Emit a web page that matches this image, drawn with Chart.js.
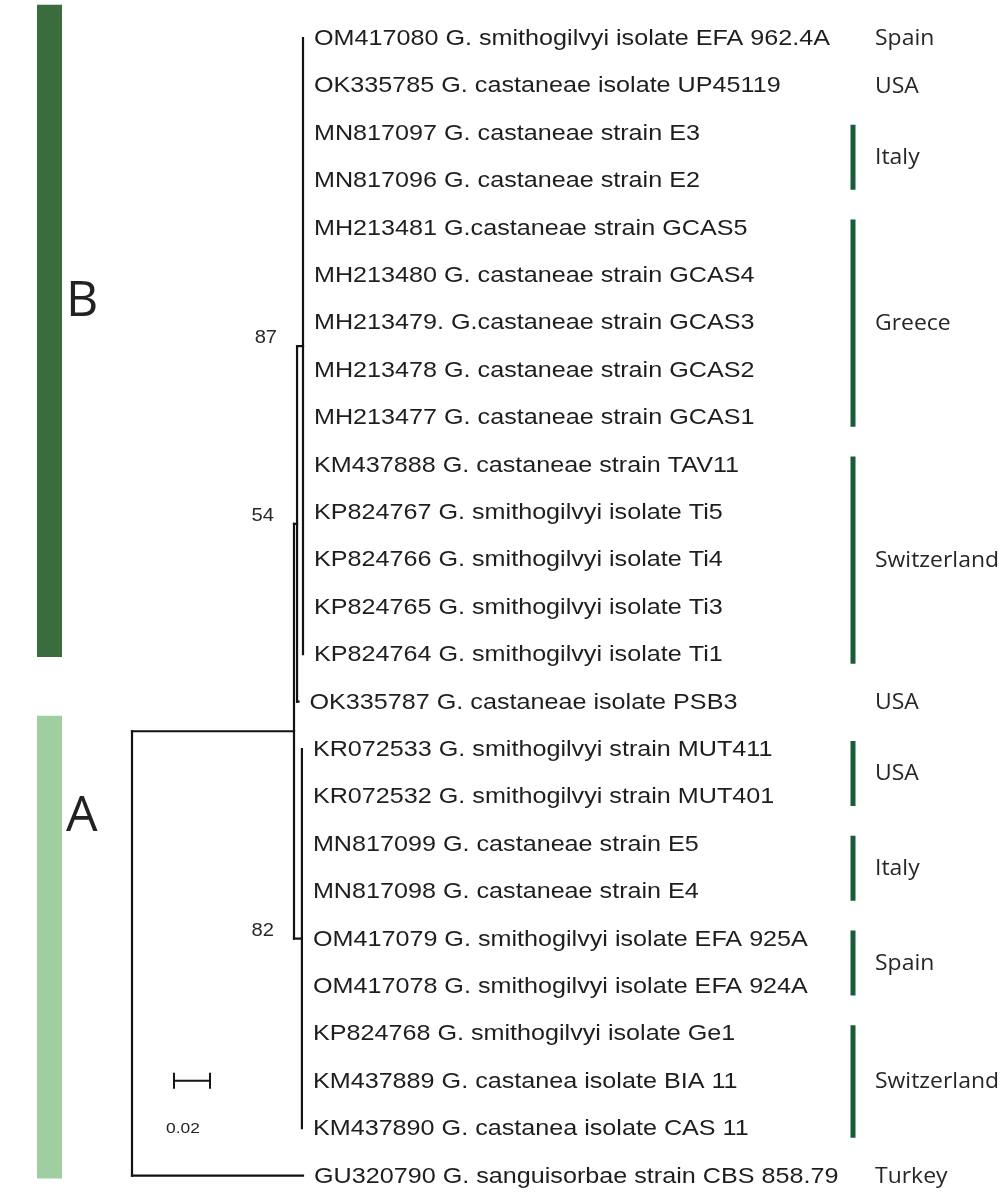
<!DOCTYPE html>
<html>
<head>
<meta charset="utf-8">
<title>Phylogenetic tree – Gnomoniopsis ITS</title>
<script src="https://cdn.jsdelivr.net/npm/chart.js@4.4.1/dist/chart.umd.min.js"></script>
<style>
  html, body { margin: 0; padding: 0; background: #ffffff; }
  #wrap { position: relative; width: 1000px; height: 1192px; }
</style>
</head>
<body>
<div id="wrap"><canvas id="tree"></canvas></div>
<script>
// ---- Taxa, in tree order (top to bottom) ----
const taxa = [
  'OM417080 G. smithogilvyi isolate EFA 962.4A',
  'OK335785 G. castaneae isolate UP45119',
  'MN817097 G. castaneae strain E3',
  'MN817096 G. castaneae strain E2',
  'MH213481 G.castaneae strain GCAS5',
  'MH213480 G. castaneae strain GCAS4',
  'MH213479. G.castaneae strain GCAS3',
  'MH213478 G. castaneae strain GCAS2',
  'MH213477 G. castaneae strain GCAS1',
  'KM437888 G. castaneae strain TAV11',
  'KP824767 G. smithogilvyi isolate Ti5',
  'KP824766 G. smithogilvyi isolate Ti4',
  'KP824765 G. smithogilvyi isolate Ti3',
  'KP824764 G. smithogilvyi isolate Ti1',
  'OK335787 G. castaneae isolate PSB3',
  'KR072533 G. smithogilvyi strain MUT411',
  'KR072532 G. smithogilvyi strain MUT401',
  'MN817099 G. castaneae strain E5',
  'MN817098 G. castaneae strain E4',
  'OM417079 G. smithogilvyi isolate EFA 925A',
  'OM417078 G. smithogilvyi isolate EFA 924A',
  'KP824768 G. smithogilvyi isolate Ge1',
  'KM437889 G. castanea isolate BIA 11',
  'KM437890 G. castanea isolate CAS 11',
  'GU320790 G. sanguisorbae strain CBS 858.79'
];
// parent node of each taxon and the length of its branch (substitutions/site)
const tipParent = [
  'n87','n87','n87','n87','n87','n87','n87','n87','n87','n87','n87','n87','n87','n87',
  'n54',
  'n82','n82','n82','n82','n82','n82','n82','n82','n82',
  'root'
];
const tipBranch = [
  0,0,0,0,0,0,0,0,0,0,0,0,0,0,
  0.0008,
  0,0,0,0,0,0,0,0,0,
  0.0950
];

// ---- Internal nodes ----
const nodeIds     = ['root', 'ingroup', 'n54', 'n87', 'n82'];
const nodeParent  = [null,   'root',    'ingroup', 'n54', 'ingroup'];
const nodeBranch  = [0,      0.0900,    0.0017,    0.0033, 0.0044];
const nodeSupport = [null,   null,      54,        87,     82];

// ---- Country of origin, as runs of consecutive taxa (1-based rows) ----
const countryNames = ['Spain','USA','Italy','Greece','Switzerland','USA','USA','Italy','Spain','Switzerland','Turkey'];
const countryFirst = [1, 2, 3, 5, 10, 15, 16, 18, 20, 22, 25];
const countryLast  = [1, 2, 4, 9, 14, 15, 17, 19, 21, 24, 25];

// ---- Clades ----
const cladeNames = ['B', 'A'];
const cladeFirst = [1, 16];
const cladeLast  = [14, 25];

// ---- Scale bar ----
const scaleBarLength = 0.02;
const scaleBarText = '0.02';

// ================= layout / style =================
const PX_PER_UNIT = 1800;     // horizontal pixels per substitution unit
const ROOT_PX = 132;          // pixel column of the root
const ROW0_PX = 38;           // pixel row of the first taxon
const ROW_PX = 47.4;          // spacing between taxa
const W = 1000, H = 1192;

const xMin = -ROOT_PX / PX_PER_UNIT;
const xMax = xMin + W / PX_PER_UNIT;
const yMin = 1 - ROW0_PX / ROW_PX;
const yMax = yMin + H / ROW_PX;

// ---- build node coordinates from the topology ----
const nodes = {};
nodeIds.forEach((id, i) => {
  nodes[id] = { id, parent: nodeParent[i], branch: nodeBranch[i], support: nodeSupport[i], kids: [] };
});
const tips = taxa.map((name, i) => ({ name, row: i + 1, parent: tipParent[i], branch: tipBranch[i] }));
nodeIds.forEach(id => { const n = nodes[id]; if (n.parent) nodes[n.parent].kids.push(n); });
tips.forEach(t => nodes[t.parent].kids.push(t));

function setX(n, px) {
  n.x = px + (n.branch || 0);
  (n.kids || []).forEach(k => setX(k, n.x));
}
function setY(n) {
  if (!n.kids) { n.y = n.row; return n.y; }
  const ys = n.kids.map(setY);
  n.yTop = Math.min(...ys);
  n.yBot = Math.max(...ys);
  n.y = (n.yTop + n.yBot) / 2;
  return n.y;
}
setX(nodes.root, 0);
setY(nodes.root);

// ---- line segments of the tree ----
const segs = [];
function collect(n) {
  if (!n.kids) return;
  segs.push([{ x: n.x, y: n.yTop }, { x: n.x, y: n.yBot }]);
  n.kids.forEach(k => {
    if (k.x > n.x) segs.push([{ x: n.x, y: k.y }, { x: k.x, y: k.y }]);
    collect(k);
  });
}
collect(nodes.root);

const datasets = [];
// clade bars on the left edge
const cladeColors = ['#3a6c3d', '#9fcfa0'];
const cladeBarX = (49.5 - ROOT_PX) / PX_PER_UNIT;
cladeNames.forEach((c, i) => {
  datasets.push({
    data: [{ x: cladeBarX, y: cladeFirst[i] - 0.7 }, { x: cladeBarX, y: cladeLast[i] + 0.06 }],
    borderColor: cladeColors[i], borderWidth: 25, borderCapStyle: 'butt'
  });
});
// country brackets
const bracketX = (853 - ROOT_PX) / PX_PER_UNIT;
countryNames.forEach((c, i) => {
  if (countryLast[i] > countryFirst[i]) {
    datasets.push({
      data: [{ x: bracketX, y: countryFirst[i] - 0.17 }, { x: bracketX, y: countryLast[i] + 0.2 }],
      borderColor: '#195d38', borderWidth: 5, borderCapStyle: 'butt'
    });
  }
});
// branches
segs.forEach(s => datasets.push({ data: s, borderColor: '#131313', borderWidth: 2.2, borderCapStyle: 'square' }));
// scale bar with end ticks
const sbX0 = (174 - ROOT_PX) / PX_PER_UNIT;
const sbRow = 23;
const tick = 0.17;
datasets.push({ data: [{ x: sbX0, y: sbRow }, { x: sbX0 + scaleBarLength, y: sbRow }], borderColor: '#151515', borderWidth: 2 });
datasets.push({ data: [{ x: sbX0, y: sbRow - tick }, { x: sbX0, y: sbRow + tick }], borderColor: '#151515', borderWidth: 2 });
datasets.push({ data: [{ x: sbX0 + scaleBarLength, y: sbRow - tick }, { x: sbX0 + scaleBarLength, y: sbRow + tick }], borderColor: '#151515', borderWidth: 2 });

datasets.forEach(d => { d.showLine = true; d.pointRadius = 0; d.pointHoverRadius = 0; d.fill = false; });

function txt(ctx, s, x, y, font, color, sx, align) {
  ctx.save();
  ctx.font = font;
  ctx.fillStyle = color;
  ctx.textBaseline = 'middle';
  ctx.textAlign = align || 'left';
  ctx.translate(x, y);
  ctx.scale(sx, 1);
  ctx.fillText(s, 0, 0);
  ctx.restore();
}

const treeLabels = {
  id: 'treeLabels',
  afterDatasetsDraw(chart) {
    const ctx = chart.ctx;
    const xs = chart.scales.x, ys = chart.scales.y;
    const taxFont = '21.5px "Liberation Sans", Arial, sans-serif';
    // taxon names
    tips.forEach(t => {
      txt(ctx, t.name, xs.getPixelForValue(t.x) + 11, ys.getPixelForValue(t.row) + 1, taxFont, '#1e1e1e', 1.17);
    });
    // bootstrap support
    nodeIds.forEach(id => {
      const n = nodes[id];
      if (n.support == null) return;
      const px = xs.getPixelForValue(nodes[n.parent].x) - 20;
      txt(ctx, String(n.support), px, ys.getPixelForValue(n.y) - 8, '18px "Liberation Sans", Arial, sans-serif', '#2a2a2a', 1.12, 'right');
    });
    // countries
    countryNames.forEach((c, i) => {
      const mid = (countryFirst[i] + countryLast[i]) / 2;
      txt(ctx, c, 875, ys.getPixelForValue(mid) + 1, '22.5px "Open Sans", sans-serif', '#262626', 1.02, 'left');
    });
    // clade letters
    const letterRow = { B: 6.53, A: 17.39 };
    cladeNames.forEach(c => {
      txt(ctx, c, 66, ys.getPixelForValue(letterRow[c]) + 2, '50px "Open Sans", sans-serif', '#222222', 1, 'left');
    });
    // scale bar value
    txt(ctx, scaleBarText, 166, ys.getPixelForValue(sbRow + 1) + 1, '14.5px "Liberation Sans", Arial, sans-serif', '#222222', 1.2, 'left');
  }
};

new Chart(document.getElementById('tree'), {
  type: 'scatter',
  data: { datasets },
  options: {
    responsive: true,
    maintainAspectRatio: false,
    animation: false,
    events: [],
    layout: { padding: 0 },
    plugins: { legend: { display: false }, tooltip: { enabled: false } },
    scales: {
      x: { type: 'linear', min: xMin, max: xMax, display: false },
      y: { type: 'linear', min: yMin, max: yMax, reverse: true, display: false }
    },
    elements: { line: { tension: 0 } }
  },
  plugins: [treeLabels]
});
</script>
</body>
</html>
